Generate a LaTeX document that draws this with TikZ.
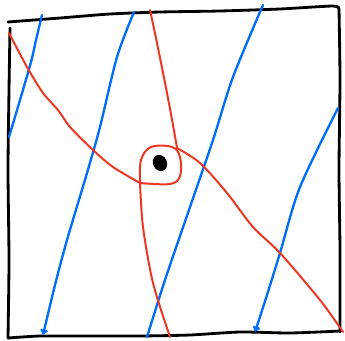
\documentclass[tikz,border=0pt]{standalone}
\usetikzlibrary{arrows.meta}
\tikzset{
  frame/.style={
    line width=2.4pt,
    line cap=round,
    line join=round
  },
  field/.style={
    draw={rgb,255:red,0;green,110;blue,250},
    line width=2pt,
    line cap=round
  },
  flow/.style={
    draw={rgb,255:red,235;green,55;blue,35},
    line width=1.7pt,
    line cap=round
  },
  fieldtip/.style={
    -{Straight Barb[length=3pt,width=5pt]}
  },
  core/.style={
    shape = ellipse,
    fill,
    inner sep = 0pt,
    minimum width = 0.42cm,
    minimum height = 0.5cm,
    rotate = 25
  }
}
\usetikzlibrary{shapes.geometric}
\begin{document}
\begin{tikzpicture}[x=0.03cm,y=-0.03cm]
    \useasboundingbox (0,0) rectangle (345,340);
    % box
    \draw[frame] plot[smooth,tension=0.4] coordinates {(8,22) (60,18) (110,14) (160,12) (220,11) (280,9) (333,6) (339,9)};
    \draw[frame] plot[smooth,tension=0.4] coordinates {(339,9) (340,80) (339,170) (340,250) (340,332)};
    \draw[frame] plot[smooth,tension=0.4] coordinates {(340,331) (290,333) (240,332) (190,335) (140,336) (90,336) (40,336) (8,338)};
    \draw[frame] plot[smooth,tension=0.4] coordinates {(8,338) (9,260) (8,170) (9,90) (10,28)};
    % blue lines
    \draw[field] plot[smooth] coordinates {(42,15) (36,40) (31,62) (20,100) (9,137)};
    \draw[field,fieldtip] plot[smooth] coordinates {(134,12) (117,57) (100,127) (87,173) (67,240) (55,285) (43,335)};
    \draw[field] plot[smooth] coordinates {(263,5) (233,77) (213,140) (190,207) (165,280) (147,337)};
    \draw[field,fieldtip] plot[smooth] coordinates {(338,108) (300,187) (280,253) (267,295) (255,332)};
    % red lines
    \draw[flow] plot[smooth,tension=0.6] coordinates {(140,183) (141,160) (151,147) (172,147) (180,157) (180,176) (170,184) (140,183)};
    \draw[flow] plot[smooth] coordinates {(9,33) (27,67) (43,93) (58,110) (70,127) (93,150) (113,167) (140,183)};
    \draw[flow] plot[smooth] coordinates {(150,10) (157,43) (167,93) (173,125) (177,148)};
    \draw[flow] plot[smooth] coordinates {(177,148) (200,163) (227,193) (253,227) (280,253) (320,300) (343,332)};
    \draw[flow] plot[smooth] coordinates {(140,183) (143,227) (153,283) (170,337)};
    % core
    \node[core] (c) at (160,163) {};
\end{tikzpicture}
\end{document}
